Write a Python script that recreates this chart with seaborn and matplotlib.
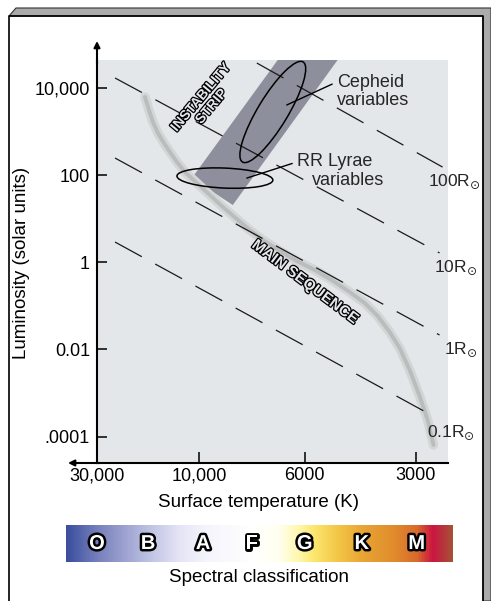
import numpy as np
import matplotlib
matplotlib.use("Agg")
import matplotlib.pyplot as plt
import matplotlib.patheffects as pe
import matplotlib.transforms as mtransforms
from matplotlib.patches import Ellipse, Polygon
from matplotlib.lines import Line2D
from matplotlib.colors import LinearSegmentedColormap
import pandas as pd
import seaborn as sns

# ---- values ----
# main sequence ridge (temperature K, luminosity in solar units)
ms_temp = [17890, 17130, 16420, 15550, 14580, 13660, 12670, 11630, 10220, 9484,
           8910, 8327, 7824, 7346, 6768, 6234, 5638, 5070, 4531, 4126,
           3804, 3529, 3316, 3114, 2926, 2783, 2682]
ms_lum = [6150, 3097, 1643, 918, 542, 337, 199, 117, 65.6, 34.8,
          18.5, 9.79, 5.48, 3.23, 1.81, 1.07, 0.663, 0.391, 0.207, 0.116,
          0.0583, 0.0251, 0.0108, 0.00337, 8.54e-4, 2.40e-4, 6.41e-5]

# instability strip corners
strip_temp = [6830, 4880, 8490, 10780]
strip_lum = [4.4e4, 4.4e4, 20.5, 85]

# lines of constant radius (start and end)
radius_labels = ['100R$_{\\odot}$', '10R$_{\\odot}$', '1R$_{\\odot}$', '0.1R$_{\\odot}$']
radius_t0 = [7560, 24700, 24700, 24700]
radius_l0 = [3.7e4, 1.68e4, 245, 2.9]
radius_t1 = [2535, 2583, 2583, 2632]
radius_l1 = [152, 1.63, 0.0214, 2.67e-4]

# variable star regions
cepheid_center = (7000, 2790)
cepheid_point = (6544, 4035)
cepheid_text = (4913, 13580)
cepheid_text2 = (4913, 5250)
rrlyrae_center = (8820, 85)
rrlyrae_point = (7935, 85)
rrlyrae_text = (6234, 199)
rrlyrae_text2 = (5743, 76.8)

xtick_temp = [30000, 10000, 6000, 3000]
xtick_labels = ['30,000', '10,000', '6000', '3000']
ytick_lum = [1e4, 1e2, 1, 1e-2, 1e-4]
ytick_labels = ['10,000', '100', '1', '0.01', '.0001']

spectral_classes = ['O', 'B', 'A', 'F', 'G', 'K', 'M']
spectral_temp = [30000, 17300, 9800, 7750, 6000, 4200, 2980]

# the temperature axis of the original is not a true log axis:
# its ticks are nearly evenly spaced, so use a piecewise log scale
knot_logt = np.log10([3000, 6000, 10000, 30000])
knot_u = np.array([0.0, 1.11, 2.17, 3.19])


def _interp_ext(x, xp, fp):
    x = np.asarray(x, dtype=float)
    shape = x.shape
    x = np.atleast_1d(x).astype(float)
    y = np.interp(x, xp, fp)
    lo = x < xp[0]
    hi = x > xp[-1]
    y[lo] = fp[0] + (x[lo] - xp[0]) * (fp[1] - fp[0]) / (xp[1] - xp[0])
    y[hi] = fp[-1] + (x[hi] - xp[-1]) * (fp[-1] - fp[-2]) / (xp[-1] - xp[-2])
    return y.reshape(shape)


def t_forward(t):
    with np.errstate(divide='ignore', invalid='ignore'):
        lt = np.log10(np.clip(np.asarray(t, dtype=float), 1, None))
    return _interp_ext(lt, knot_logt, knot_u)


def t_inverse(u):
    return 10 ** _interp_ext(u, knot_u, knot_logt)


sns.set_theme(style='white')
plt.rcParams['font.family'] = ['Liberation Sans', 'DejaVu Sans']
plt.rcParams['mathtext.fontset'] = 'dejavusans'
plt.rcParams['lines.scale_dashes'] = False

W, H = 491, 601
fig = plt.figure(figsize=(W / 100, H / 100), dpi=100, facecolor='white')


def fx(px):
    return px / W


def fy(py):
    return 1 - py / H


# frame of the panel
frame = Polygon([(fx(9), fy(16)), (fx(16), fy(8)), (fx(491), fy(8)), (fx(491), fy(601)),
                 (fx(483), fy(601)), (fx(483), fy(16))], closed=True,
                transform=fig.transFigure, facecolor='#ababab', edgecolor='#333333', lw=0.8)
fig.add_artist(frame)
fig.add_artist(Line2D([fx(9), fx(9), fx(483), fx(483)], [fy(601), fy(16), fy(16), fy(601)],
                      transform=fig.transFigure, color='black', lw=1.2))

ax = fig.add_axes([fx(97), fy(463), (448 - 97) / W, (463 - 60) / H])
ax.set_facecolor('#e3e7e9')
ax.set_xscale('function', functions=(t_forward, t_inverse))
ax.set_yscale('log')
ax.set_xlim(30000, 2450)
ax.set_ylim(10 ** -4.606, 10 ** 4.638)

# instability strip
ax.fill(strip_temp, strip_lum, color='#8d909c', lw=0, zorder=1)

# main sequence band
ms = pd.DataFrame({'temp': ms_temp, 'lum': ms_lum})
sns.lineplot(data=ms, x='temp', y='lum', sort=False, estimator=None, ax=ax,
             color='#d2d6d5', lw=6.8, solid_capstyle='round', solid_joinstyle='round', zorder=2)
sns.lineplot(data=ms, x='temp', y='lum', sort=False, estimator=None, ax=ax,
             color='#b9bdbd', lw=2.8, solid_capstyle='round', solid_joinstyle='round', zorder=2)

# constant radius lines
for lab, t0, l0, t1, l1 in zip(radius_labels, radius_t0, radius_l0, radius_t1, radius_l1):
    ax.plot([t0, t1], [l0, l1], color='#1a1a1a', lw=0.9, dashes=(22, 11), zorder=3)
    ax.annotate(lab, xy=(t1, l1), xytext=(38, -15), textcoords='offset pixels',
                ha='right', va='center', fontsize=12.5, annotation_clip=False)

# variable star ellipses
for center, w, h, ang in [(cepheid_center, 1.17, 0.30, 58.8), (rrlyrae_center, 0.96, 0.20, -2.5)]:
    tr = fig.dpi_scale_trans + mtransforms.ScaledTranslation(center[0], center[1], ax.transData)
    ax.add_patch(Ellipse((0, 0), w, h, angle=ang, transform=tr, fill=False,
                         edgecolor='black', lw=1.1, zorder=4))

ax.annotate('Cepheid', xy=cepheid_point, xytext=cepheid_text, ha='left', va='center',
            fontsize=13, zorder=5,
            arrowprops=dict(arrowstyle='-', color='black', lw=1.0, shrinkA=1, shrinkB=0,
                            relpos=(0, 0.5)))
ax.text(*cepheid_text2, 'variables', ha='left', va='center', fontsize=13, zorder=5)
ax.annotate('RR Lyrae', xy=rrlyrae_point, xytext=rrlyrae_text, ha='left', va='center',
            fontsize=13, zorder=5,
            arrowprops=dict(arrowstyle='-', color='black', lw=1.0, shrinkA=1, shrinkB=0,
                            relpos=(0, 0.5)))
ax.text(*rrlyrae_text2, 'variables', ha='left', va='center', fontsize=13, zorder=5)

outline = [pe.withStroke(linewidth=1.8, foreground='black')]
ax.text(6000, 0.35, 'MAIN SEQUENCE', rotation=-37, rotation_mode='anchor',
        ha='center', va='center', fontsize=11, fontweight='bold', color='#e3e7e9',
        path_effects=outline, zorder=5)
ax.text(9670, 4720, 'INSTABILITY\nSTRIP', rotation=50, rotation_mode='anchor',
        ha='center', va='center', multialignment='center', linespacing=1.0,
        fontsize=10, fontweight='bold', color='#e3e7e9', path_effects=outline, zorder=5)

# axes styling
for side in ['top', 'right']:
    ax.spines[side].set_visible(False)
for side in ['left', 'bottom']:
    ax.spines[side].set_color('black')
    ax.spines[side].set_linewidth(1.5)
ax.set_xticks(xtick_temp)
ax.set_xticklabels(xtick_labels)
ax.set_yticks(ytick_lum)
ax.set_yticklabels(ytick_labels)
ax.minorticks_off()
ax.tick_params(axis='y', direction='in', length=7, width=1.1, labelsize=13, pad=5,
               colors='black', left=True)
ax.tick_params(axis='x', direction='in', length=8, width=1.1, labelsize=13, pad=3,
               colors='black', bottom=True)

ax.set_xlabel('Surface temperature (K)', fontsize=13.5, color='black')
ax.xaxis.set_label_coords((259 - 97) / 351, -0.097)
ax.xaxis.label.set_va('center')
ax.set_ylabel('Luminosity (solar units)', fontsize=13.5, color='black')
ax.yaxis.set_label_coords((22 - 97) / 351, 0.496)
ax.yaxis.label.set_va('center')

# axis arrows
ax.annotate('', xy=(0, 1 + 19 / 403), xytext=(0, 0.99), xycoords='axes fraction',
            arrowprops=dict(arrowstyle='-|>', color='black', lw=1.5, mutation_scale=9,
                            shrinkA=0, shrinkB=0), annotation_clip=False)
ax.annotate('', xy=(-29 / 351, 0), xytext=(0.01, 0), xycoords='axes fraction',
            arrowprops=dict(arrowstyle='-|>', color='black', lw=1.5, mutation_scale=9,
                            shrinkA=0, shrinkB=0), annotation_clip=False)

# spectral classification bar
bar_colors = [(0.0, '#3a4f9e'), (0.08, '#7880bc'), (0.21, '#bcc0e2'), (0.29, '#e4e4f6'),
              (0.36, '#f4f4fc'), (0.48, '#ffffff'), (0.55, '#fffff0'), (0.6, '#fff8b0'),
              (0.64, '#fce870'), (0.7, '#f4c848'), (0.77, '#e8a434'), (0.85, '#e08c2c'),
              (0.91, '#d86a2c'), (0.95, '#cc1442'), (1.0, '#a65036')]
cmap = LinearSegmentedColormap.from_list('spectral_bar', bar_colors)
bax = fig.add_axes([fx(66), fy(562), (453 - 66) / W, 37 / H])
bax.imshow(np.linspace(0, 1, 400).reshape(1, -1), aspect='auto', cmap=cmap,
           extent=(0, 1, 0, 1))
bax.set_axis_off()
letter_tr = mtransforms.blended_transform_factory(ax.transData, bax.transAxes)
for cls, t in zip(spectral_classes, spectral_temp):
    bax.text(t, 0.5, cls, transform=letter_tr, ha='center', va='center', fontsize=14.5,
             fontweight='heavy', color='white', clip_on=False,
             path_effects=[pe.withStroke(linewidth=3.5, foreground='black')])

fig.text(fx(259), fy(577), 'Spectral classification', ha='center', va='center',
         fontsize=13.5, color='black')

fig.savefig('out.png', dpi=100)
